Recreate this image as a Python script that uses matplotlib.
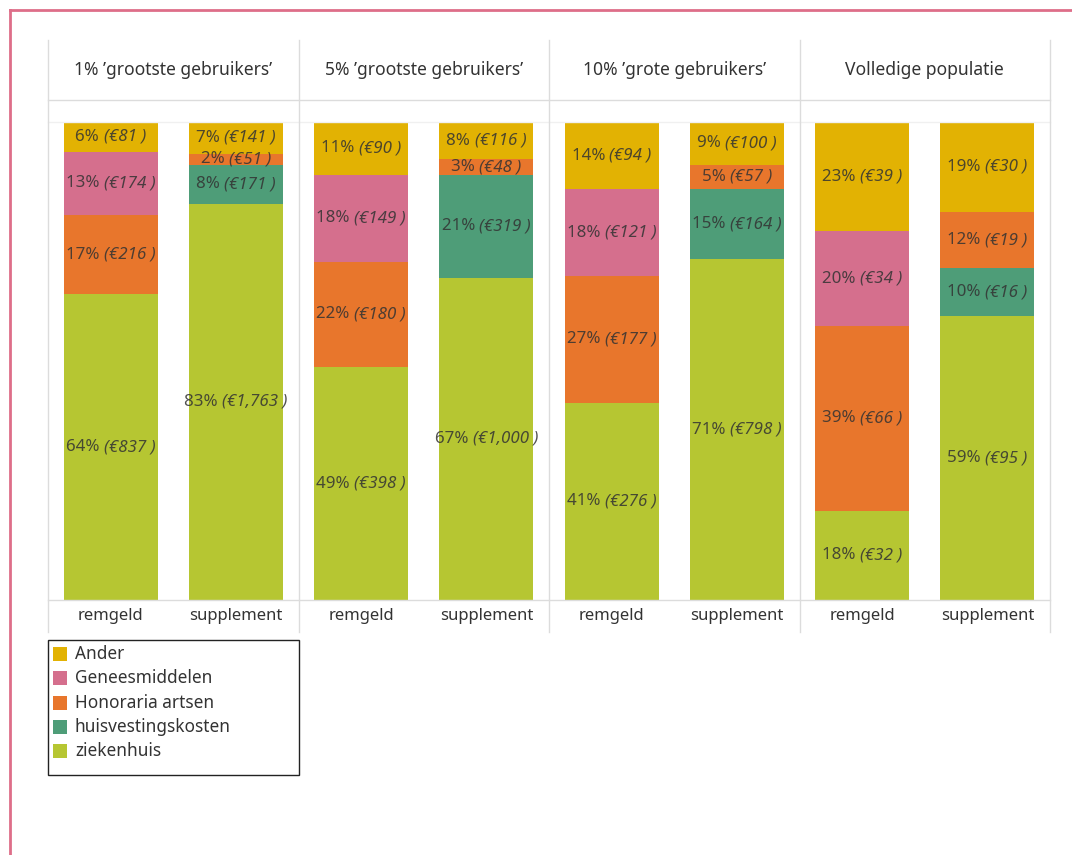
import matplotlib
matplotlib.use("Agg")
import matplotlib.pyplot as plt
from matplotlib.lines import Line2D
from matplotlib.patches import Rectangle

plt.rcParams['font.family'] = ['Noto Sans', 'DejaVu Sans']

# Data
# ****
panels = ["1% ’grootste gebruikers’", "5% ’grootste gebruikers’",
          "10% ’grote gebruikers’", "Volledige populatie"]
bar_names = ["remgeld", "supplement"]

# stacking order, bottom to top
categories = ["ziekenhuis", "huisvestingskosten", "Honoraria artsen", "Geneesmiddelen", "Ander"]
colors = ["#B6C632", "#4E9D78", "#E8762C", "#D56F8D", "#E2B203"]

# euro amounts (0 = not present), one list per category, one value per panel
remgeld_eur = {
    "ziekenhuis":         [837, 398, 276, 32],
    "huisvestingskosten": [0, 0, 0, 0],
    "Honoraria artsen":   [216, 180, 177, 66],
    "Geneesmiddelen":     [174, 149, 121, 34],
    "Ander":              [81, 90, 94, 39],
}
remgeld_pct = {
    "ziekenhuis":         [64, 49, 41, 18],
    "huisvestingskosten": [0, 0, 0, 0],
    "Honoraria artsen":   [17, 22, 27, 39],
    "Geneesmiddelen":     [13, 18, 18, 20],
    "Ander":              [6, 11, 14, 23],
}
supplement_eur = {
    "ziekenhuis":         [1763, 1000, 798, 95],
    "huisvestingskosten": [171, 319, 164, 16],
    "Honoraria artsen":   [51, 48, 57, 19],
    "Geneesmiddelen":     [0, 0, 0, 0],
    "Ander":              [141, 116, 100, 30],
}
supplement_pct = {
    "ziekenhuis":         [83, 67, 71, 59],
    "huisvestingskosten": [8, 21, 15, 10],
    "Honoraria artsen":   [2, 3, 5, 12],
    "Geneesmiddelen":     [0, 0, 0, 0],
    "Ander":              [7, 8, 9, 19],
}

# Layout (pixels)
# ***************
W, H = 1072, 855
x_left, panel_w = 48, 250.5
y_head, y_head_line, y_top, y_bot, y_end = 40, 100, 122, 600, 632

def fx(px):
    return px / W

def fy(py):
    return 1 - py / H

fig = plt.figure(figsize=(W / 100, H / 100), dpi=100)

# Pink outer border
fig.add_artist(Line2D([fx(10), fx(10)], [fy(10), 0], color="#DE6E89", lw=2))
fig.add_artist(Line2D([fx(10), 1], [fy(10), fy(10)], color="#DE6E89", lw=2))

# Table grid lines
x_right = x_left + 4 * panel_w
for py, c in [(y_head_line, "#dcdcdc"), (y_top, "#f0f0f0"), (y_bot, "#dcdcdc")]:
    fig.add_artist(Line2D([fx(x_left), fx(x_right)], [fy(py), fy(py)], color=c, lw=1))
for i in range(5):
    px = x_left + i * panel_w
    fig.add_artist(Line2D([fx(px), fx(px)], [fy(y_head), fy(y_end)], color="#dcdcdc", lw=1))

text_color = "#333333"
labels = []

for i, title in enumerate(panels):
    ax = fig.add_axes([fx(x_left + i * panel_w), fy(y_bot), fx(panel_w), (y_bot - y_top) / H])
    ax.set_xlim(0, 2)
    ax.set_ylim(0, 1)
    ax.axis("off")

    fig.text(fx(x_left + (i + 0.5) * panel_w), fy(70), title, ha="center", va="center",
             fontsize=12.6, color=text_color)

    for j, (eur, pct) in enumerate([(remgeld_eur, remgeld_pct), (supplement_eur, supplement_pct)]):
        xc = 0.5 + j
        total = sum(eur[c][i] for c in categories)
        bottom = 0
        for cat, col in zip(categories, colors):
            v = eur[cat][i]
            if v == 0:
                continue
            h = v / total
            ax.bar(xc, h, width=0.75, bottom=bottom, color=col, edgecolor="none")
            yc = bottom + h / 2
            t1 = ax.text(xc, yc, f"{pct[cat][i]}% ", ha="left", va="center",
                         fontsize=12.2, color=text_color, alpha=0.85)
            t2 = ax.text(xc, yc, f"(€{v:,} )", ha="left", va="center", style="italic",
                         fontsize=12.2, color=text_color, alpha=0.85)
            labels.append((ax, xc, yc, t1, t2))
            bottom += h

        ax.text(xc, -0.033, bar_names[j], ha="center", va="center", fontsize=12,
                color=text_color, transform=ax.transData, clip_on=False)

# Center the two-part labels on their segments
fig.canvas.draw()
renderer = fig.canvas.get_renderer()
for ax, xc, yc, t1, t2 in labels:
    w1 = t1.get_window_extent(renderer).width
    w2 = t2.get_window_extent(renderer).width
    cx, cy = ax.transData.transform((xc, yc))
    inv = ax.transData.inverted()
    t1.set_position(inv.transform((cx - (w1 + w2) / 2, cy)))
    t2.set_position(inv.transform((cx - (w1 + w2) / 2 + w1, cy)))

# Legend box
fig.add_artist(Rectangle((fx(48), fy(775)), fx(251), (775 - 640) / H, fill=False,
                         edgecolor="#222222", lw=1, transform=fig.transFigure))
legend_order = ["Ander", "Geneesmiddelen", "Honoraria artsen", "huisvestingskosten", "ziekenhuis"]
for k, cat in enumerate(legend_order):
    py = 654 + k * 24.3
    col = colors[categories.index(cat)]
    fig.add_artist(Rectangle((fx(53), fy(py + 7)), fx(14), 14 / H, facecolor=col,
                             edgecolor="none", transform=fig.transFigure))
    fig.text(fx(75), fy(py), cat, ha="left", va="center", fontsize=12.4, color=text_color)

fig.savefig("out.png", dpi=100)
